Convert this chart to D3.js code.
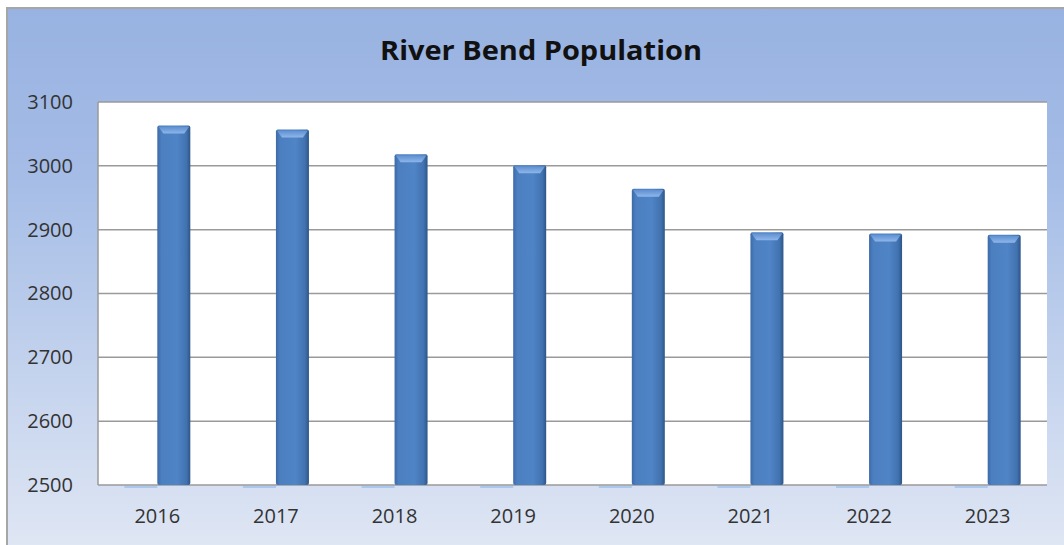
<!DOCTYPE html>
<html>
<head>
<meta charset="utf-8">
<script src="https://cdn.jsdelivr.net/npm/d3@7"></script>
<style>
  body { margin: 0; background: #fff; }
  svg { display: block; }
</style>
</head>
<body>
<div id="chart"></div>
<script>
// chart data
var years = ["2016", "2017", "2018", "2019", "2020", "2021", "2022", "2023"];
var population = [3063, 3057, 3018, 3001, 2964, 2896, 2894, 2892];
var yTicks = [2500, 2600, 2700, 2800, 2900, 3000, 3100];

var width = 1064, height = 545;
var margin = {top: 102, right: 17, bottom: 60, left: 98};
var plotW = width - margin.left - margin.right,
    plotH = height - margin.top - margin.bottom;

var svg = d3.select("#chart")
  .append("svg")
    .attr("width", width)
    .attr("height", height);

var defs = svg.append("defs");

var bg = defs.append("linearGradient")
    .attr("id", "bgGrad")
    .attr("x1", 0).attr("y1", 0).attr("x2", 0).attr("y2", 1);
bg.append("stop").attr("offset", "0%").attr("stop-color", "#98b2e1");
bg.append("stop").attr("offset", "30%").attr("stop-color", "#a4bce6");
bg.append("stop").attr("offset", "100%").attr("stop-color", "#e0e7f4");

var barGrad = defs.append("linearGradient")
    .attr("id", "barGrad")
    .attr("x1", 0).attr("y1", 0).attr("x2", 1).attr("y2", 0);
barGrad.append("stop").attr("offset", "0%").attr("stop-color", "#3c6aa6");
barGrad.append("stop").attr("offset", "12%").attr("stop-color", "#4b7fc0");
barGrad.append("stop").attr("offset", "60%").attr("stop-color", "#4f84c6");
barGrad.append("stop").attr("offset", "88%").attr("stop-color", "#4272b0");
barGrad.append("stop").attr("offset", "100%").attr("stop-color", "#2d5688");

var capGrad = defs.append("linearGradient")
    .attr("id", "capGrad")
    .attr("x1", 0).attr("y1", 0).attr("x2", 0).attr("y2", 1);
capGrad.append("stop").attr("offset", "0%").attr("stop-color", "#5d8fd0");
capGrad.append("stop").attr("offset", "100%").attr("stop-color", "#8fb6ea");

// outer frame
svg.append("rect")
    .attr("x", 7).attr("y", 8)
    .attr("width", width).attr("height", height)
    .attr("fill", "url(#bgGrad)")
    .attr("stroke", "#a6a6a6")
    .attr("stroke-width", 2);

svg.append("text")
    .attr("x", 541)
    .attr("y", 60)
    .attr("text-anchor", "middle")
    .attr("font-family", "'Open Sans', sans-serif")
    .attr("font-weight", "bold")
    .attr("font-size", 26)
    .attr("fill", "#111")
    .attr("textLength", 322)
    .attr("lengthAdjust", "spacingAndGlyphs")
    .text("River Bend Population");

var chart = svg.append("g")
    .attr("transform", "translate(" + margin.left + "," + margin.top + ")");

var x = d3.scaleBand()
    .domain(years)
    .range([0, plotW]);

var y = d3.scaleLinear()
    .domain([2500, 3100])
    .range([plotH, 0]);

chart.append("rect")
    .attr("width", plotW)
    .attr("height", plotH)
    .attr("fill", "#fff");

// gridlines
chart.append("g")
  .selectAll("line")
  .data(yTicks)
  .enter()
  .append("line")
    .attr("x1", 0).attr("x2", plotW)
    .attr("y1", function(d) { return y(d); })
    .attr("y2", function(d) { return y(d); })
    .attr("stroke", "#9a9a9a")
    .attr("stroke-width", 1.5);

chart.append("line")
    .attr("x1", 0).attr("x2", 0)
    .attr("y1", 0).attr("y2", plotH)
    .attr("stroke", "#9a9a9a")
    .attr("stroke-width", 1.5);

var barW = 33;
var bars = chart.append("g")
  .selectAll("g")
  .data(years)
  .enter()
  .append("g")
    .attr("transform", function(d) {
      return "translate(" + (x(d) + x.bandwidth() / 2) + ",0)";
    });

// faint floor shadow left of each bar
bars.append("line")
    .attr("x1", -barW).attr("x2", 0)
    .attr("y1", plotH + 2).attr("y2", plotH + 2)
    .attr("stroke", "#a9c8ec")
    .attr("stroke-width", 2);

bars.append("rect")
    .attr("x", 0)
    .attr("y", function(d, i) { return y(population[i]); })
    .attr("width", barW)
    .attr("height", function(d, i) { return plotH - y(population[i]); })
    .attr("rx", 2)
    .attr("fill", "url(#barGrad)");

// bevelled top
bars.append("path")
    .attr("d", function(d, i) {
      var t = y(population[i]);
      return "M1," + (t + 1) + "L" + (barW - 1) + "," + (t + 1) +
        "L" + (barW - 6) + "," + (t + 8) + "L6," + (t + 8) + "Z";
    })
    .attr("fill", "url(#capGrad)");

// axes labels
var yAxis = chart.append("g")
    .call(d3.axisLeft(y).tickValues(yTicks).tickFormat(d3.format("d"))
      .tickSize(0).tickPadding(25));
yAxis.select(".domain").remove();
yAxis.selectAll("text")
    .attr("font-family", "'Open Sans', sans-serif")
    .attr("font-size", 20)
    .attr("fill", "#333");

var xAxis = chart.append("g")
    .attr("transform", "translate(0," + plotH + ")")
    .call(d3.axisBottom(x).tickSize(0).tickPadding(24));
xAxis.select(".domain").remove();
xAxis.selectAll("text")
    .attr("font-family", "'Open Sans', sans-serif")
    .attr("font-size", 20)
    .attr("fill", "#333");
</script>
</body>
</html>
